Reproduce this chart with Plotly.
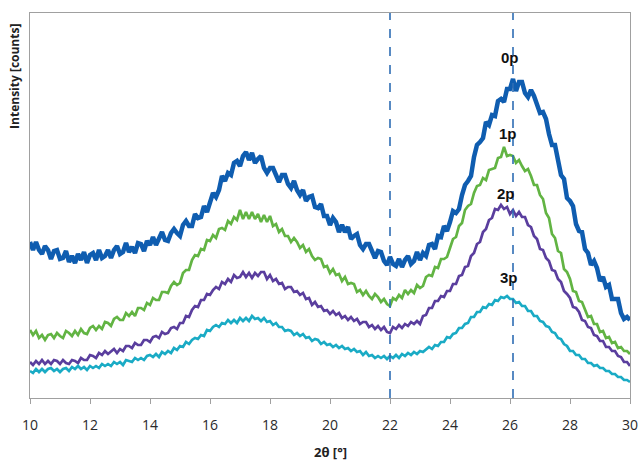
import plotly.graph_objects as go

# sampling positions (2theta, degrees)
x_start = 10.0
x_step = 0.1
n_points = 201
two_theta = [round(x_start + x_step * i, 1) for i in range(n_points)]

# intensities (arbitrary counts)
i_0p = [158, 150, 158, 150, 146, 154, 150, 141, 149, 150,
        141, 142, 149, 138, 144, 137, 146, 140, 148, 137,
        145, 147, 140, 150, 142, 144, 150, 142, 150, 154,
        146, 148, 157, 148, 153, 147, 157, 156, 149, 159,
        155, 163, 155, 161, 168, 160, 159, 167, 171, 167,
        164, 175, 179, 174, 174, 186, 182, 183, 194, 188,
        199, 207, 203, 210, 224, 219, 227, 225, 237, 239,
        234, 244, 248, 240, 247, 237, 241, 244, 232, 227,
        232, 232, 225, 218, 225, 225, 216, 212, 219, 210,
        205, 210, 199, 203, 204, 193, 192, 196, 184, 184,
        175, 182, 178, 168, 175, 168, 173, 161, 164, 166,
        155, 151, 156, 156, 149, 142, 149, 148, 139, 135,
        143, 136, 134, 141, 133, 140, 144, 136, 139, 148,
        140, 147, 144, 155, 156, 151, 164, 163, 174, 169,
        178, 189, 187, 191, 205, 215, 219, 224, 243, 255,
        258, 262, 278, 275, 285, 284, 299, 301, 298, 311,
        311, 321, 309, 318, 318, 307, 303, 310, 304, 296,
        287, 288, 281, 266, 255, 255, 238, 225, 221, 202,
        199, 194, 176, 169, 168, 151, 147, 135, 139, 132,
        119, 123, 113, 115, 101, 101, 101, 87, 81, 83,
        80]

i_1p = [70, 65, 69, 62, 65, 60, 65, 66, 62, 67,
        64, 62, 69, 67, 64, 69, 65, 71, 67, 66,
        72, 74, 70, 74, 71, 78, 77, 74, 81, 83,
        80, 80, 87, 84, 88, 84, 92, 92, 90, 97,
        95, 102, 100, 100, 108, 108, 107, 114, 118, 115,
        117, 127, 130, 130, 140, 145, 144, 151, 150, 160,
        159, 165, 162, 171, 172, 170, 179, 176, 183, 180,
        190, 181, 188, 181, 188, 181, 186, 178, 185, 178,
        184, 174, 176, 168, 171, 164, 164, 158, 162, 158,
        152, 155, 148, 151, 144, 140, 142, 141, 133, 134,
        127, 131, 125, 126, 119, 123, 116, 117, 116, 108,
        110, 105, 109, 104, 101, 106, 103, 98, 101, 96,
        94, 102, 100, 105, 102, 110, 106, 110, 107, 115,
        112, 114, 123, 125, 124, 133, 132, 141, 141, 143,
        152, 161, 163, 174, 177, 190, 194, 196, 207, 214,
        215, 222, 220, 230, 231, 232, 242, 243, 253, 244,
        245, 244, 237, 240, 234, 229, 231, 224, 215, 215,
        205, 201, 187, 182, 166, 162, 149, 147, 131, 128,
        121, 109, 108, 99, 98, 90, 83, 84, 76, 76,
        68, 69, 62, 63, 57, 58, 52, 53, 49, 49,
        46]

i_2p = [38, 35, 39, 36, 40, 36, 39, 36, 40, 39,
        36, 40, 37, 36, 40, 39, 37, 42, 40, 40,
        45, 44, 42, 47, 45, 49, 46, 49, 51, 47,
        51, 49, 54, 54, 52, 57, 55, 55, 60, 60,
        58, 63, 64, 62, 68, 66, 67, 72, 73, 71,
        77, 77, 84, 83, 90, 94, 93, 100, 100, 106,
        105, 110, 113, 111, 118, 116, 121, 118, 125, 122,
        123, 128, 123, 127, 122, 127, 124, 128, 128, 121,
        125, 119, 121, 116, 117, 111, 113, 113, 108, 109,
        105, 107, 101, 102, 95, 98, 93, 94, 89, 90,
        86, 89, 85, 87, 82, 84, 80, 83, 79, 81,
        76, 78, 78, 73, 75, 71, 74, 70, 73, 68,
        67, 73, 71, 75, 72, 76, 74, 78, 76, 79,
        76, 84, 85, 92, 92, 99, 99, 104, 103, 109,
        109, 116, 116, 124, 125, 133, 134, 144, 147, 156,
        158, 168, 171, 180, 182, 191, 190, 195, 191, 193,
        186, 190, 184, 188, 183, 183, 175, 173, 164, 161,
        151, 150, 142, 139, 130, 129, 121, 118, 109, 106,
        102, 93, 92, 88, 80, 79, 73, 72, 65, 64,
        59, 59, 53, 53, 49, 49, 44, 43, 38, 38,
        34]

i_3p = [29, 27, 31, 28, 31, 28, 31, 32, 29, 31,
        28, 31, 32, 29, 33, 31, 34, 31, 33, 30,
        34, 32, 34, 32, 36, 34, 36, 34, 38, 36,
        38, 35, 40, 39, 38, 42, 40, 42, 40, 44,
        45, 43, 46, 43, 48, 46, 49, 47, 52, 50,
        54, 53, 58, 56, 60, 62, 61, 65, 64, 70,
        69, 73, 75, 73, 77, 76, 80, 77, 80, 77,
        82, 79, 82, 79, 84, 81, 82, 79, 82, 78,
        79, 75, 77, 73, 73, 69, 70, 69, 65, 67,
        64, 66, 62, 63, 59, 61, 60, 56, 58, 55,
        56, 53, 55, 52, 54, 51, 52, 49, 51, 48,
        49, 45, 48, 44, 45, 42, 44, 42, 44, 41,
        44, 42, 45, 42, 46, 44, 47, 45, 48, 46,
        49, 48, 51, 53, 51, 55, 54, 58, 58, 63,
        62, 66, 67, 72, 72, 76, 77, 83, 83, 88,
        88, 93, 92, 96, 95, 100, 99, 103, 102, 104,
        101, 101, 97, 98, 94, 94, 89, 89, 84, 84,
        79, 78, 74, 73, 68, 67, 62, 61, 56, 54,
        49, 49, 45, 45, 41, 41, 37, 37, 34, 35,
        32, 32, 29, 29, 26, 26, 23, 23, 20, 20,
        18]

series_names = ["0p", "1p", "2p", "3p"]
series_values = [i_0p, i_1p, i_2p, i_3p]
series_colors = ["#0f5db0", "#62b443", "#5a3e9e", "#1aabc5"]
series_widths = [4.5, 2.7, 2.7, 2.7]

# label positions for the series names
label_x = [26.0, 25.93, 25.87, 25.95]
label_y = [343, 267, 207, 123]

# vertical reference lines
ref_lines = [22.0, 26.1]

x_ticks = [10, 12, 14, 16, 18, 20, 22, 24, 26, 28, 30]

fig = go.Figure()
for name, vals, col, w in zip(series_names, series_values, series_colors, series_widths):
    fig.add_trace(go.Scatter(x=two_theta, y=vals, mode="lines", name=name,
                             line=dict(color=col, width=w), showlegend=False))

for xv in ref_lines:
    fig.add_shape(type="line", xref="x", yref="paper", x0=xv, x1=xv, y0=0, y1=1,
                  line=dict(color="#2e6db4", width=1.6, dash="dash"))

for name, lx, ly in zip(series_names, label_x, label_y):
    fig.add_annotation(x=lx, y=ly, text="<b>%s</b>" % name, showarrow=False,
                       font=dict(family="Arial, Liberation Sans", size=15, color="#111111"))

fig.add_annotation(xref="paper", yref="paper", x=-0.025, y=0.834, xanchor="center", yanchor="middle",
                   text="<b>Intensity [counts]</b>", textangle=-90, showarrow=False,
                   font=dict(family="Open Sans", size=12, color="#222222"))

fig.add_annotation(xref="paper", yref="paper", x=0.5, y=-0.14, xanchor="center", yanchor="middle",
                   text="<b>2θ [°]</b>", showarrow=False,
                   font=dict(family="Open Sans", size=13, color="#222222"))

fig.update_layout(
    width=638, height=463,
    margin=dict(l=30, r=8, t=13, b=65),
    paper_bgcolor="white", plot_bgcolor="white",
    xaxis=dict(range=[10, 30], tickvals=x_ticks, ticks="outside", ticklen=5,
               tickcolor="#a0a0a0", showline=True, linecolor="#a0a0a0", linewidth=1.2,
               mirror=True, showgrid=False, zeroline=False, automargin=False,
               ticklabelstandoff=9, ticklabeloverflow="allow",
               tickfont=dict(family="Open Sans", size=14, color="#2a2a2a")),
    yaxis=dict(range=[2, 387], showticklabels=False, ticks="", showline=True, automargin=False,
               linecolor="#a0a0a0", linewidth=1.2, mirror=True, showgrid=False, zeroline=False),
)

fig.write_html("out.html")
